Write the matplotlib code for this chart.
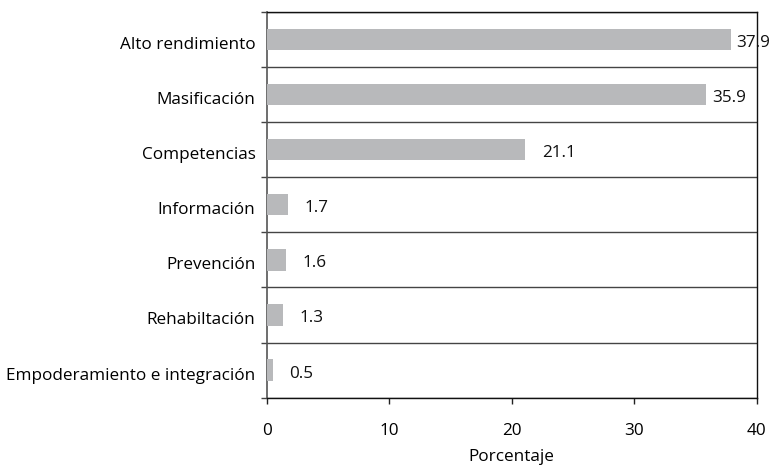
import matplotlib
matplotlib.use("Agg")
import matplotlib.pyplot as plt
import matplotlib.transforms as mtransforms
import numpy as np

categories = [
    "Alto rendimiento",
    "Masificación",
    "Competencias",
    "Información",
    "Prevención",
    "Rehabiltación",
    "Empoderamiento e integración",
]
values = [37.9, 35.9, 21.1, 1.7, 1.6, 1.3, 0.5]
x_ticks = [0, 10, 20, 30, 40]

plt.rcParams["font.family"] = ["Open Sans", "DejaVu Sans"]
FS = 12.3

fig = plt.figure(figsize=(7.70, 4.69), dpi=100)
ax = fig.add_axes([0.3464, 0.152, 0.9827 - 0.3464, 0.975 - 0.152])

y = np.arange(len(categories))
ax.barh(y, values, height=0.39, color="#b8b9bb", zorder=3)

for yi, v in zip(y, values):
    off = 4 if v > 35 else 12
    ax.annotate(f"{v:.1f}", xy=(v, yi), xytext=(off, -2.5), textcoords="offset points",
                ha="left", va="center", fontsize=FS, color="#111111", zorder=4)

ax.set_xlim(0, 40)
ax.set_ylim(len(categories) - 0.5, -0.5)
ax.set_xticks(x_ticks)
ax.set_xticklabels([str(t) for t in x_ticks], fontsize=FS)
ax.set_yticks(y)
ax.set_yticklabels(categories, fontsize=FS)
ax.tick_params(axis="y", length=0, pad=8)
ax.tick_params(axis="x", length=4.5, width=1, pad=14, color="#222222")

# nudge category labels slightly below the bar centre line
shift = mtransforms.ScaledTranslation(0, -2.5 / 72, fig.dpi_scale_trans)
for lbl in ax.get_yticklabels():
    lbl.set_transform(lbl.get_transform() + shift)

# row separators drawn as minor-tick grid lines
ax.set_yticks(np.arange(-0.5, len(categories) + 0.5, 1.0), minor=True)
ax.tick_params(axis="y", which="minor", length=4.5, width=1, color="#444444")
ax.grid(axis="y", which="minor", color="#444444", linewidth=1, zorder=1)
ax.grid(axis="y", which="major", visible=False)

for side in ["top", "right", "bottom"]:
    ax.spines[side].set_color("#111111")
    ax.spines[side].set_linewidth(1)
ax.spines["left"].set_color("#555555")
ax.spines["left"].set_linewidth(1.2)

ax.set_xlabel("Porcentaje", fontsize=FS, labelpad=7)

fig.savefig("out.png", dpi=100)
